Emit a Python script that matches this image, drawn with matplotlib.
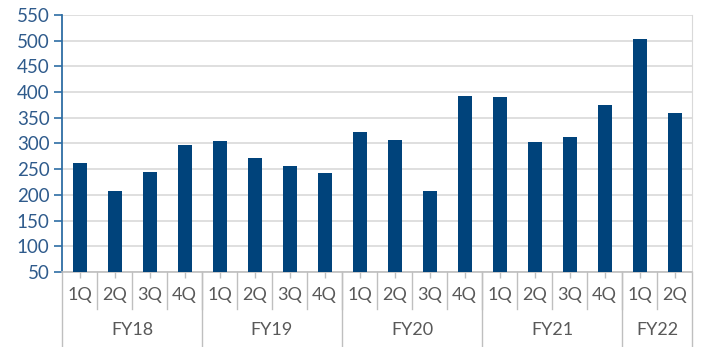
import matplotlib
matplotlib.use("Agg")
import matplotlib.pyplot as plt
import matplotlib.transforms as mtransforms
import numpy as np

plt.rcParams['font.family'] = ['Lato', 'DejaVu Sans']

quarters = ['1Q', '2Q', '3Q', '4Q'] * 4 + ['1Q', '2Q']
years = ['FY18', 'FY19', 'FY20', 'FY21', 'FY22']
year_sizes = [4, 4, 4, 4, 2]
values = [262, 207, 244, 298,
          305, 271, 257, 243,
          323, 307, 208, 392,
          390, 302, 312, 374,
          503, 359]
yticks = [50, 100, 150, 200, 250, 300, 350, 400, 450, 500, 550]

bar_color = '#00437b'
ylab_color = '#2f5b8c'
xlab_color = '#595959'
grid_color = '#d9d9d9'
sep_color = '#bfbfbf'

fig = plt.figure(figsize=(7.03, 3.47), dpi=100)
ax = fig.add_axes([62 / 703, 75 / 347, 630 / 703, 257 / 347])

x = np.arange(len(values))
ax.bar(x, values, width=0.4, color=bar_color, zorder=3)

ax.set_xlim(-0.5, len(values) - 0.5)
ax.set_ylim(50, 550)
ax.set_yticks(yticks)
ax.tick_params(axis='y', colors='#2e6da4', labelcolor=ylab_color, labelsize=13.5,
               direction='out', length=6, width=1.2, pad=3)
ax.yaxis.grid(True, color=grid_color, linewidth=1.2, zorder=0)

ax.set_xticks(x)
ax.set_xticklabels([])
ax.tick_params(axis='x', colors=sep_color, length=4, width=1)

for side in ['top']:
    ax.spines[side].set_visible(False)
ax.spines['right'].set_color(grid_color)
ax.spines['left'].set_color('#2e6da4')
ax.spines['left'].set_linewidth(1.3)
ax.spines['bottom'].set_color(sep_color)
ax.spines['bottom'].set_linewidth(1.2)

trans = mtransforms.blended_transform_factory(ax.transData, ax.transAxes)

# quarter labels and separators
for i, q in enumerate(quarters):
    ax.text(i, -0.09, q, transform=trans, ha='center', va='center',
            fontsize=13, color=xlab_color)
    if i > 0:
        ax.plot([i - 0.5, i - 0.5], [0, -0.145], transform=trans,
                color=sep_color, linewidth=1, clip_on=False)

# year labels and separators
start = 0
edges = [0]
for name, n in zip(years, year_sizes):
    mid = start + (n - 1) / 2
    ax.text(mid, -0.225, name, transform=trans, ha='center', va='center',
            fontsize=13, color=xlab_color)
    start += n
    edges.append(start)
for e in edges:
    ax.plot([e - 0.5, e - 0.5], [0, -0.29], transform=trans,
            color=sep_color, linewidth=1, clip_on=False)

fig.savefig('out.png', dpi=100)
